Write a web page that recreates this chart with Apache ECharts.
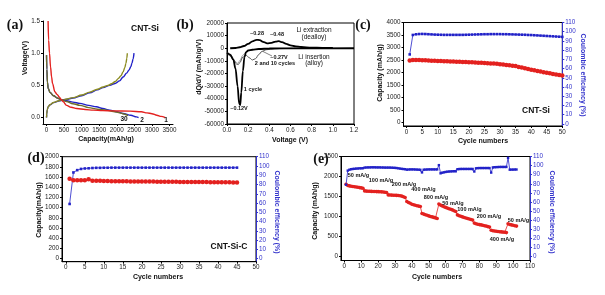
<!DOCTYPE html>
<html><head><meta charset="utf-8">
<script src="https://cdn.jsdelivr.net/npm/echarts@6/dist/echarts.min.js"></script>
<style>html,body{margin:0;padding:0;background:#fff}#c{width:605px;height:295px}</style>
</head><body><div id="c"></div>
<script>
// ---------- DATA ----------
// (a) galvanostatic curves: [capacity mAh/g, voltage V]
const aCycle1Discharge = [[45,1.5],[60,1.2],[85,1.0],[114,0.79],[145,0.63],[171,0.53],[238,0.4],[300,0.36],[362,0.32],[420,0.28],[476,0.245],[570,0.19],[700,0.16],[860,0.14],[1100,0.125],[1330,0.115],[1600,0.108],[1900,0.104],[2380,0.1],[2700,0.09],[2860,0.073],[3000,0.06],[3140,0.036],[3260,0.018],[3380,0.0]];
const aCycle2Discharge = [[0,0.97],[10,0.75],[25,0.55],[50,0.45],[100,0.39],[200,0.34],[320,0.30],[450,0.27],[570,0.262],[750,0.24],[950,0.22],[1200,0.19],[1420,0.167],[1600,0.14],[1800,0.115],[2000,0.09],[2180,0.0625],[2400,0.035],[2560,0.01],[2620,0.0]];
const aCycle30Discharge = [[0,0.97],[10,0.75],[25,0.55],[50,0.45],[100,0.39],[200,0.34],[320,0.30],[450,0.27],[570,0.25],[750,0.215],[950,0.19],[1200,0.155],[1450,0.13],[1710,0.115],[1900,0.095],[2090,0.073],[2200,0.055],[2320,0.03]];
const aCycle2Charge = [[0,0.0],[8,0.06],[20,0.12],[50,0.17],[100,0.2],[200,0.232],[380,0.262],[550,0.28],[760,0.305],[1000,0.34],[1230,0.385],[1450,0.43],[1610,0.465],[1800,0.5],[1950,0.53],[2080,0.57],[2180,0.63],[2280,0.69],[2350,0.74],[2400,0.79],[2430,0.84],[2465,0.91],[2490,1.0]];
const aCycle30Charge = [[0,0.0],[8,0.06],[20,0.12],[50,0.17],[100,0.2],[200,0.235],[380,0.265],[550,0.285],[760,0.31],[1000,0.35],[1230,0.395],[1450,0.44],[1610,0.475],[1750,0.5],[1850,0.525],[1960,0.56],[2040,0.605],[2120,0.65],[2180,0.71],[2230,0.78],[2260,0.84],[2285,0.92],[2300,1.0]];
const aXTicks = [0,500,1000,1500,2000,2500,3000,3500];
const aYTicks = [0,0.5,1.0,1.5];

// (b) dQ/dV: [voltage V, dQ/dV]
const bExtraction = [[0.03,0],[0.08,200],[0.12,800],[0.16,1800],[0.2,3400],[0.24,5500],[0.28,6700],[0.31,6400],[0.34,5100],[0.38,3900],[0.42,4300],[0.46,5300],[0.49,5600],[0.52,4800],[0.56,3400],[0.6,2300],[0.65,1500],[0.7,1000],[0.8,500],[0.9,300],[1.0,200]];
const bInsertion1 = [[0,-3500],[0.03,-5000],[0.06,-9000],[0.08,-16000],[0.1,-30000],[0.115,-44000],[0.125,-45000],[0.135,-35000],[0.15,-18000],[0.165,-7000],[0.18,-3000],[0.2,-1800],[0.24,-1200],[0.3,-600],[0.4,-200],[0.6,-50],[1.2,0]];
const bInsertion2 = [[0,-4000],[0.03,-6000],[0.06,-9000],[0.09,-12500],[0.105,-13000],[0.12,-11500],[0.15,-7000],[0.18,-5500],[0.21,-7500],[0.24,-9300],[0.27,-8200],[0.3,-5000],[0.33,-2500],[0.37,-1200],[0.45,-400],[0.6,-100],[1.0,0]];
const bInsertion10 = [[0,-3000],[0.04,-6000],[0.08,-10500],[0.1,-12000],[0.12,-10000],[0.15,-5500],[0.18,-3000],[0.21,-1500],[0.25,-1000],[0.3,-800],[0.4,-300],[0.6,-100],[1.0,0]];

// (c) CNT-Si cycling
const cCapacity = [2480,2500,2500,2495,2490,2485,2478,2470,2465,2460,2455,2450,2445,2440,2435,2430,2425,2420,2415,2410,2405,2398,2390,2383,2375,2368,2360,2352,2342,2330,2315,2300,2285,2270,2255,2220,2195,2170,2140,2110,2085,2060,2035,2010,1990,1965,1940,1915,1895,1875];
const cEfficiency = [75.4,96.5,97.2,97.5,97.6,97.5,97.3,97.1,96.9,96.8,96.7,96.6,96.6,96.6,96.6,96.6,96.6,96.6,96.7,96.8,96.9,97.0,97.1,97.2,97.3,97.3,97.4,97.4,97.4,97.4,97.3,97.3,97.2,97.1,97.0,96.9,96.8,96.7,96.5,96.4,96.2,96.0,95.8,95.6,95.4,95.2,95.0,94.8,94.6,94.4];

// (d) CNT-Si-C cycling
const dCapacity = [1565,1540,1540,1538,1540,1558,1530,1530,1528,1525,1522,1520,1520,1518,1518,1516,1515,1515,1514,1513,1512,1512,1511,1510,1510,1509,1508,1508,1507,1506,1506,1505,1504,1504,1503,1502,1502,1501,1500,1500,1499,1498,1497,1496,1495];
const dEfficiency = [59,93,95.5,96.8,97.3,97.5,97.8,98,98,98.1,98.1,98.2,98.2,98.2,98.2,98.2,98.2,98.2,98.2,98.2,98.2,98.2,98.2,98.2,98.2,98.2,98.2,98.2,98.2,98.2,98.2,98.2,98.2,98.2,98.2,98.2,98.2,98.2,98.2,98.2,98.2,98.2,98.2,98.2,98.2];

// (e) rate capability
const eCapacity = [1808,1775,1765,1758,1750,1743,1737,1730,1722,1715,1708,
  1640,1635,1632,1630,1628,1626,1625,1623,1621,1619,1616,1613,1608,1600,
  1540,1537,1535,1533,1530,1528,1525,1520,1510,1495,1475,
  1375,1350,1330,1308,1295,1280,1270,1260,1250,
  1075,1060,1045,1030,1015,1000,990,978,965,950,
  1310,1285,1265,1245,1228,1210,1195,1180,1165,1145,1125,
  1040,1020,1005,990,975,962,950,938,925,912,
  835,820,808,798,790,780,770,760,748,735,
  655,645,638,632,625,620,615,610,605,598,
  820,800,790,780,770,760];
const eEfficiency = [79,94.5,95.5,96,96.3,96.5,96.7,96.8,97,97,97.1,
  97.8,97.9,98,98,98.1,98.1,98.1,98,98,98,97.9,97.9,97.8,97.8,
  97.8,97.8,97.7,97.6,97.5,97.3,97,96.7,96.4,96.2,96,
  95.5,95.7,95.8,95.8,95.8,95.7,95.6,95.5,95.4,
  92.5,95.5,95.6,95.7,95.8,95.8,95.8,95.8,95.8,95.8,
  100.5,91.5,92.2,92.6,93,93.3,93.5,93.6,93.7,93.8,93.7,
  96,96.2,96.3,96.3,96.3,96.3,96.3,96.3,96.3,96.3,
  93.5,97,97.2,97.3,97.3,97.3,97.3,97.3,97.3,97.3,
  92.3,98,98.2,98.3,98.4,98.5,98.5,98.5,98.5,98.5,
  108.5,95.5,95.6,95.6,95.7,95.7];

const cycleTicks50 = [0,5,10,15,20,25,30,35,40,45,50];
const cycleTicks110 = [0,10,20,30,40,50,60,70,80,90,100,110];
const capTicksC = [0,500,1000,1500,2000,2500,3000,3500,4000];
const capTicksD = [0,200,400,600,800,1000,1200,1400,1600,1800,2000];
const capTicksE = [0,500,1000,1500,2000,2500];
const ceTicks = [0,10,20,30,40,50,60,70,80,90,100,110];

// ---------- CHART ----------
const RED = '#e3211f', BLUE = '#2222c8', OLIVE = '#8c8c22', AXBLUE = '#3333cc';
const FONT = 'Liberation Sans';
const LFS = 6.3;
const toPairs = arr => arr.map((v, i) => [i + 1, v]);
const plain = v => String(v);

function baseX(gi, min, max, ticks, fmt) {
  return {
    gridIndex: gi, type: 'value', min, max, splitLine: {show: false},
    axisLine: {show: true, onZero: false, lineStyle: {color: '#000', width: 1}},
    axisTick: {show: true, length: 2, customValues: ticks, lineStyle: {color: '#000'}},
    axisLabel: {customValues: ticks, fontSize: LFS, fontFamily: FONT, color: '#222', margin: 3, formatter: fmt || plain},
  };
}
function baseY(gi, min, max, ticks, fmt, color, pos) {
  color = color || '#000';
  return {
    gridIndex: gi, type: 'value', min, max, position: pos || 'left', splitLine: {show: false},
    axisLine: {show: true, onZero: false, lineStyle: {color: color, width: 1}},
    axisTick: {show: true, length: 2, customValues: ticks, lineStyle: {color: color}},
    axisLabel: {customValues: ticks, fontSize: LFS, fontFamily: FONT, color: color === '#000' ? '#222' : color, margin: 3, formatter: fmt || plain}
  };
}

const xAxes = [
  baseX(0, -100, 3600, aXTicks),
  Object.assign(baseX(1, 0, 1.2, undefined), {interval: 0.2, axisTick: {show: true, length: 2, lineStyle: {color: '#000'}}, axisLabel: {fontSize: LFS, fontFamily: FONT, color: '#222', margin: 3, formatter: v => v.toFixed(1)}}),
  baseX(2, -1, 50, cycleTicks50),
  baseX(3, -1, 50, cycleTicks50),
  baseX(4, -2, 110, cycleTicks110)
];
const yAxes = [
  baseY(0, -0.1, 1.5, aYTicks, v => v.toFixed(1)),
  Object.assign(baseY(1, -60000, 20000, undefined), {interval: 10000, axisTick: {show: true, length: 2, lineStyle: {color: '#000'}}, axisLabel: {fontSize: LFS, fontFamily: FONT, color: '#222', margin: 3, formatter: plain}}),
  baseY(2, -150, 4000, capTicksC),
  baseY(2, -2.2, 110, ceTicks, null, AXBLUE, 'right'),
  baseY(3, -60, 2000, capTicksD),
  baseY(3, -3.3, 110, ceTicks, null, AXBLUE, 'right'),
  baseY(4, -100, 2500, capTicksE),
  baseY(4, -4.4, 110, ceTicks, null, AXBLUE, 'right')
];

function curve(xi, yi, data, color, width) {
  return {type: 'line', xAxisIndex: xi, yAxisIndex: yi, data, showSymbol: false, symbol: 'none',
    smooth: 0.35, smoothMonotone: 'x', lineStyle: {color, width}, itemStyle: {color}, silent: true, animation: false, clip: true};
}
function dots(xi, yi, data, color, symbol, size, lw) {
  return {type: 'line', xAxisIndex: xi, yAxisIndex: yi, data, symbol, symbolSize: size, showSymbol: true,
    lineStyle: {color, width: lw}, itemStyle: {color}, silent: true, animation: false, clip: false};
}

const series = [
  curve(0, 0, aCycle2Charge, BLUE, 1.4),
  curve(0, 0, aCycle30Charge, OLIVE, 1.4),
  curve(0, 0, aCycle2Discharge, BLUE, 1.4),
  curve(0, 0, aCycle30Discharge, '#6e6e2a', 1.4),
  curve(0, 0, aCycle1Discharge, RED, 1.4),
  curve(1, 1, bInsertion10, '#8a8a8a', 0.8),
  curve(1, 1, bInsertion2, '#555', 1),
  curve(1, 1, bExtraction, '#000', 1.8),
  curve(1, 1, bInsertion1, '#000', 1.8),
  dots(2, 2, toPairs(cCapacity), RED, 'circle', 4.5, 1),
  dots(2, 3, toPairs(cEfficiency), BLUE, 'rect', 2.6, 0.8),
  dots(3, 4, toPairs(dCapacity), RED, 'circle', 4.5, 1),
  dots(3, 5, toPairs(dEfficiency), BLUE, 'rect', 2.6, 0.8),
  dots(4, 6, toPairs(eCapacity), RED, 'circle', 3.6, 0.8),
  dots(4, 7, toPairs(eEfficiency), BLUE, 'rect', 2.4, 0.8)
];

function txt(text, x, y, opt) {
  opt = opt || {};
  return {type: 'text', x, y, rotation: opt.rot || 0, silent: true, z: 100,
    style: {text, align: opt.align || 'center', verticalAlign: 'middle',
      font: (opt.weight || 'bold') + ' ' + (opt.size || 7) + 'px ' + (opt.family || FONT), fill: opt.color || '#111'}};
}
const R90 = Math.PI / 2;
const graphic = [
  // panel letters
  txt('(a)', 15, 25, {size: 14, family: 'Liberation Serif'}),
  txt('(b)', 185, 25, {size: 14, family: 'Liberation Serif'}),
  txt('(c)', 363, 25, {size: 14, family: 'Liberation Serif'}),
  txt('(d)', 36, 158, {size: 14, family: 'Liberation Serif'}),
  txt('(e)', 321, 159, {size: 14, family: 'Liberation Serif'}),
  // axis titles
  txt('Voltage(V)', 25, 58, {rot: R90}),
  txt('Capacity(mAh/g)', 106, 139),
  txt('dQ/dV (mAh/g/V)', 199.5, 67, {rot: R90}),
  txt('Voltage (V)', 290, 140),
  txt('Capacity (mAh/g)', 380, 73, {rot: R90}),
  txt('Coulombic efficiency (%)', 583, 75, {rot: -R90, color: AXBLUE}),
  txt('Cycle numbers', 483, 141),
  txt('Capacity(mAh/g)', 39, 210, {rot: R90}),
  txt('Coulombic efficiency (%)', 277, 212, {rot: -R90, color: AXBLUE}),
  txt('Cycle numbers', 158, 277),
  txt('Capacity (mAh/g)', 315, 211, {rot: R90}),
  txt('Coulombic efficiency (%)', 552, 212, {rot: -R90, color: AXBLUE}),
  txt('Cycle numbers', 437, 277),
  // sample labels
  txt('CNT-Si', 145, 29, {size: 8.5}),
  txt('CNT-Si', 536, 111, {size: 8.5}),
  txt('CNT-Si-C', 229, 247, {size: 8.5}),
  // (a) cycle labels
  txt('30', 124, 119, {size: 6.5}),
  txt('2', 142, 120, {size: 6.5}),
  txt('1', 166, 120, {size: 6.5}),
  // (b) annotations
  txt('~0.28', 257, 33, {size: 5.5}),
  txt('~0.48', 277, 34, {size: 5.5}),
  txt('Li extraction', 314, 30, {size: 6.5, weight: 'normal'}),
  txt('(dealloy)', 314, 37.5, {size: 6.5, weight: 'normal'}),
  txt('Li insertion', 314, 57, {size: 6.5, weight: 'normal'}),
  txt('(alloy)', 314, 63.5, {size: 6.5, weight: 'normal'}),
  txt('~0.27V', 279, 57, {size: 5.5}),
  txt('2 and 10 cycles', 275, 63, {size: 5.5}),
  txt('1 cycle', 253, 89, {size: 5.5}),
  txt('~0.12V', 239, 108, {size: 5.5}),
  {type: 'line', silent: true, z: 100, shape: {x1: 263, y1: 51.5, x2: 272, y2: 56}, style: {stroke: '#333', lineWidth: 0.6}},
  // (e) rate labels
  txt('50 mA/g', 358.5, 175, {size: 5.5}),
  txt('100 mA/g', 381, 180, {size: 5.5}),
  txt('200 mA/g', 404, 184, {size: 5.5}),
  txt('400 mA/g', 423.5, 189, {size: 5.5}),
  txt('800 mA/g', 436, 197, {size: 5.5}),
  txt('50 mA/g', 453, 203, {size: 5.5}),
  txt('100 mA/g', 469.5, 209, {size: 5.5}),
  txt('200 mA/g', 489, 216.5, {size: 5.5}),
  txt('400 mA/g', 502, 239, {size: 5.5}),
  txt('50 mA/g', 518.5, 220, {size: 5.5})
];

const chart = echarts.init(document.getElementById('c'), null, {renderer: 'canvas'});
chart.setOption({
  backgroundColor: '#fff',
  animation: false,
  grid: [
    {left: 43, top: 21, width: 130, height: 103, show: false, containLabel: false, outerBoundsMode: 'none'},
    {left: 227, top: 23, width: 127, height: 101, show: true, borderColor: '#000', borderWidth: 1, backgroundColor: 'transparent', containLabel: false, outerBoundsMode: 'none'},
    {left: 403.5, top: 22.5, width: 158.8, height: 103.5, show: true, borderColor: '#000', borderWidth: 1, backgroundColor: 'transparent', containLabel: false, outerBoundsMode: 'none'},
    {left: 62, top: 156.7, width: 194, height: 105, show: true, borderColor: '#000', borderWidth: 1, backgroundColor: 'transparent', containLabel: false, outerBoundsMode: 'none'},
    {left: 341, top: 156.5, width: 189, height: 104, show: true, borderColor: '#000', borderWidth: 1, backgroundColor: 'transparent', containLabel: false, outerBoundsMode: 'none'}
  ],
  xAxis: xAxes,
  yAxis: yAxes,
  series,
  graphic
});
</script></body></html>
